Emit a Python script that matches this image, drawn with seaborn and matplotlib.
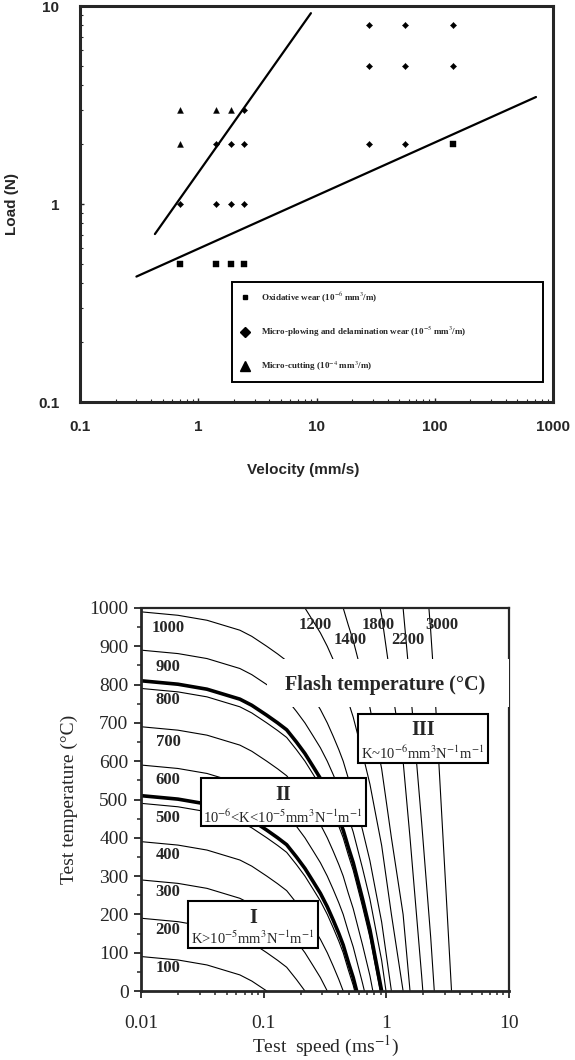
import numpy as np
import pandas as pd
import matplotlib
matplotlib.use("Agg")
import matplotlib.pyplot as plt
import seaborn as sns
from matplotlib.lines import Line2D
from matplotlib.patches import Rectangle
from matplotlib.ticker import FixedLocator, FixedFormatter, LogLocator, NullFormatter, MultipleLocator

#  DATA — top panel (wear map, load vs sliding velocity)
OXID_V = [0.7, 1.4, 1.9, 2.45, 142]
OXID_L = [0.5, 0.5, 0.5, 0.5, 2]
PLOW_V = [0.7, 1.4, 1.9, 2.45, 1.4, 1.9, 2.45, 2.45, 28, 56, 28, 56, 142, 28, 56, 142]
PLOW_L = [1, 1, 1, 1, 2, 2, 2, 3, 2, 2, 5, 5, 5, 8, 8, 8]
CUT_V = [0.7, 0.7, 1.4, 1.9]
CUT_L = [2, 3, 3, 3]
STEEP_V = [0.43, 8.97]
STEEP_L = [0.705, 9.2]
SHALLOW_V = [0.30, 718]
SHALLOW_L = [0.43, 3.47]
TOP_XTICKS = [0.1, 1, 10, 100, 1000]
TOP_XLABELS = ["0.1", "1", "10", "100", "1000"]
TOP_YTICKS = [0.1, 1, 10]
TOP_YLABELS = ["0.1", "1", "10"]
LEGEND_LABELS = [
    "Oxidative wear (10$^{-6}$ mm$^{3}$/m)",
    "Micro-plowing and delamination wear (10$^{-5}$ mm$^{3}$/m)",
    "Micro-cutting (10$^{-4}$ mm$^{3}$/m)",
]

#  DATA — bottom panel (flash temperature map)
# temperature rise above the test temperature
RISE_SPEED = [0.01, 0.02, 0.0345, 0.064, 0.08, 0.106, 0.13, 0.154, 0.185, 0.217, 0.254,
              0.29, 0.33, 0.369, 0.41, 0.445, 0.49, 0.537, 0.573, 0.64, 0.735, 0.82,
              0.916, 1.10, 1.37, 1.56, 1.94, 2.30, 2.52, 3.40, 4.0]
RISE_DEGC = [10, 19, 32, 58, 74, 100, 120, 138, 170, 200, 235,
             265, 300, 335, 370, 400, 445, 485, 520, 580, 660, 740,
             820, 1000, 1200, 1400, 1760, 2060, 2250, 3000, 3500]
FLASH_LEVELS = [100, 200, 300, 400, 500, 600, 700, 800, 900, 1000, 1200, 1400, 1800, 2200, 3000]
BOUNDARY_LEVELS = [520, 820]
LEFT_LABELS = ["1000", "900", "800", "700", "600", "500", "400", "300", "200", "100"]
LEFT_LABEL_T = [948, 846, 760, 650, 551, 451, 355, 258, 159, 60]
TOP_LABELS = ["1200", "1400", "1800", "2200", "3000"]
TOP_LABEL_V = [0.262, 0.512, 0.859, 1.51, 2.82]
TOP_LABEL_T = [956, 916, 956, 916, 956]
BOT_XTICKS = [0.01, 0.1, 1, 10]
BOT_XLABELS = ["0.01", "0.1", "1", "10"]

sns.set_style("ticks")
plt.rcParams["font.family"] = ["Liberation Serif", "DejaVu Serif"]
plt.rcParams["mathtext.fontset"] = "stix"

SANS = ["Liberation Sans", "DejaVu Sans"]
SERIF = ["Liberation Serif", "DejaVu Serif"]

fig = plt.figure(figsize=(5.75, 10.6), dpi=100)

#  TOP PANEL
ax1 = fig.add_axes([80 / 575, 1 - 402 / 1060, 473 / 575, 396 / 1060])
ax1.set_xscale("log")
ax1.set_yscale("log")

sns.lineplot(x=STEEP_V, y=STEEP_L, ax=ax1, color="black", lw=1.6, estimator=None)
sns.lineplot(x=SHALLOW_V, y=SHALLOW_L, ax=ax1, color="black", lw=1.6, estimator=None)
sns.scatterplot(x=OXID_V, y=OXID_L, ax=ax1, marker="s", s=18, color="black", edgecolor="black", linewidth=0.3)
sns.scatterplot(x=PLOW_V, y=PLOW_L, ax=ax1, marker="D", s=10, color="black", edgecolor="black", linewidth=0.3)
sns.scatterplot(x=CUT_V, y=CUT_L, ax=ax1, marker="^", s=18, color="black", edgecolor="black", linewidth=0.3)

ax1.set_xlim(0.1, 1000)
ax1.set_ylim(0.1, 10)
ax1.xaxis.set_major_locator(FixedLocator(TOP_XTICKS))
ax1.xaxis.set_major_formatter(FixedFormatter(TOP_XLABELS))
ax1.yaxis.set_major_locator(FixedLocator(TOP_YTICKS))
ax1.yaxis.set_major_formatter(FixedFormatter(TOP_YLABELS))
ax1.xaxis.set_minor_locator(LogLocator(base=10, subs=np.arange(2, 10)))
ax1.yaxis.set_minor_locator(LogLocator(base=10, subs=np.arange(2, 10)))
ax1.xaxis.set_minor_formatter(NullFormatter())
ax1.yaxis.set_minor_formatter(NullFormatter())
ax1.tick_params(which="major", direction="in", length=3, width=1)
ax1.tick_params(which="minor", direction="in", length=2, width=0.8)
ax1.tick_params(axis="x", pad=13)
ax1.tick_params(axis="y", pad=15)
for lab in ax1.get_xticklabels() + ax1.get_yticklabels():
    lab.set_family(SANS)
    lab.set_fontweight("bold")
    lab.set_fontsize(11)
for sp in ax1.spines.values():
    sp.set_linewidth(2.2)

ax1.set_xlabel("Velocity (mm/s)", family=SANS, fontweight="bold", fontsize=11)
ax1.set_ylabel("Load (N)", family=SANS, fontweight="bold", fontsize=11)
ax1.xaxis.set_label_coords(0.471, -0.154)
ax1.yaxis.set_label_coords(-0.129, 0.5)

handles = [
    Line2D([], [], ls="none", marker="s", ms=3.5, color="black"),
    Line2D([], [], ls="none", marker="D", ms=5.5, color="black"),
    Line2D([], [], ls="none", marker="^", ms=7, color="black"),
]
leg = ax1.legend(handles, LEGEND_LABELS, loc="lower left", mode="expand",
                 bbox_to_anchor=(0.311, 0.038, 0.678, 0.235),
                 prop={"family": SERIF, "weight": "bold", "size": 6.5},
                 frameon=True, fancybox=False, edgecolor="black", framealpha=1,
                 labelspacing=2.3, borderpad=1.0, handlelength=1.0, handletextpad=1.2)
leg.get_frame().set_linewidth(1.4)

#  BOTTOM PANEL
ax2 = fig.add_axes([141 / 575, 1 - 991 / 1060, 368 / 575, 383 / 1060])
ax2.set_xscale("log")

rise = np.array(RISE_DEGC)
curves = pd.concat([
    pd.DataFrame({"speed": RISE_SPEED, "temp": lvl - rise, "level": lvl})
    for lvl in FLASH_LEVELS
])
bounds = pd.concat([
    pd.DataFrame({"speed": RISE_SPEED, "temp": lvl - rise, "level": lvl})
    for lvl in BOUNDARY_LEVELS
])
sns.lineplot(data=curves, x="speed", y="temp", units="level", estimator=None,
             sort=False, color="black", lw=0.8, ax=ax2)
sns.lineplot(data=bounds, x="speed", y="temp", units="level", estimator=None,
             sort=False, color="black", lw=2.6, ax=ax2)

ax2.set_xlim(0.01, 10)
ax2.set_ylim(0, 1000)
ax2.xaxis.set_major_locator(FixedLocator(BOT_XTICKS))
ax2.xaxis.set_major_formatter(FixedFormatter(BOT_XLABELS))
ax2.xaxis.set_minor_locator(LogLocator(base=10, subs=np.arange(2, 10)))
ax2.xaxis.set_minor_formatter(NullFormatter())
ax2.yaxis.set_major_locator(MultipleLocator(100))
ax2.yaxis.set_minor_locator(MultipleLocator(50))
ax2.tick_params(which="major", direction="out", length=5, width=1.3, labelsize=14)
ax2.tick_params(which="minor", direction="out", length=3, width=1.1)
ax2.tick_params(axis="x", which="major", pad=12)
ax2.tick_params(axis="y", which="major", pad=4)
for lab in ax2.get_xticklabels() + ax2.get_yticklabels():
    lab.set_family(SERIF)
ax2.spines["left"].set_linewidth(2.0)
ax2.spines["bottom"].set_linewidth(2.0)
ax2.spines["top"].set_linewidth(1.6)
ax2.spines["right"].set_linewidth(1.6)

ax2.set_xlabel("Test  speed (ms$^{-1}$)", family=SERIF, fontsize=14)
ax2.set_ylabel("Test temperature (°C)", family=SERIF, fontsize=14)
ax2.xaxis.set_label_coords(0.5, -0.112)
ax2.yaxis.set_label_coords(-0.171, 0.5)

# white area behind the title
ax2.add_patch(Rectangle((0.342, 0.742), 0.658, 0.124, transform=ax2.transAxes,
                        facecolor="white", edgecolor="none", zorder=3))
ax2.text(0.664, 0.799, "Flash temperature (°C)", transform=ax2.transAxes,
         ha="center", va="center", fontsize=14.5, fontweight="bold", family=SERIF, zorder=5)

for txt, t in zip(LEFT_LABELS, LEFT_LABEL_T):
    ax2.text(0.0166, t, txt, ha="center", va="center", fontsize=12,
             fontweight="bold", family=SERIF, zorder=5)
for txt, v, t in zip(TOP_LABELS, TOP_LABEL_V, TOP_LABEL_T):
    ax2.text(v, t, txt, ha="center", va="center", fontsize=12,
             fontweight="bold", family=SERIF, zorder=5)

# regime boxes (axes fraction: x0, y0, w, h)
regimes = [
    ((0.128, 0.112, 0.353, 0.123), "I", "K>10$^{-5}$mm$^{3}$N$^{-1}$m$^{-1}$", 0.191, 0.138),
    ((0.162, 0.431, 0.449, 0.126), "II", "10$^{-6}$<K<10$^{-5}$mm$^{3}$N$^{-1}$m$^{-1}$", 0.512, 0.454),
    ((0.590, 0.595, 0.353, 0.128), "III", "K~10$^{-6}$mm$^{3}$N$^{-1}$m$^{-1}$", 0.681, 0.621),
]
for (x0, y0, w, h), big, small, yb, ys in regimes:
    ax2.add_patch(Rectangle((x0, y0), w, h, transform=ax2.transAxes,
                            facecolor="white", edgecolor="black", lw=1.5, zorder=4))
    xc = x0 + w / 2
    ax2.text(xc, yb, big, transform=ax2.transAxes, ha="center", va="center",
             fontsize=14.5, fontweight="bold", family=SERIF, zorder=5)
    ax2.text(xc, ys, small, transform=ax2.transAxes, ha="center", va="center",
             fontsize=10.5, family=SERIF, zorder=5)

fig.savefig("out.png", dpi=100)
